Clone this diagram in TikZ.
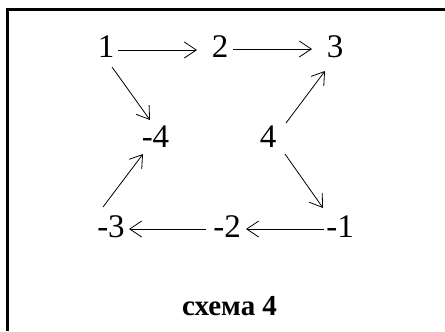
\documentclass[tikz,border=0pt]{standalone}
\usepackage{fontspec}
\setmainfont{Liberation Serif}
\usetikzlibrary{arrows.meta}
\begin{document}
\begin{tikzpicture}[x=1bp,y=-1bp,
  num/.style={inner sep=0pt,font=\fontsize{33bp}{36bp}\selectfont},
  caption/.style={inner sep=0pt,font=\fontsize{29bp}{32bp}\selectfont\bfseries},
  arr/.style={line width=0.8bp,-{Straight Barb[length=12bp,width=16bp]}},
  frame/.style={line width=3bp}]
\useasboundingbox (0,0) rectangle (445,331);
% frame (top and left edges)
\draw[frame] (7.5,331) -- (7.5,9) -- (445,9);
% vertices
\node[num] (n1) at (106,47) {1};
\node[num] (n2) at (220,47) {2};
\node[num] (n3) at (335,47) {3};
\node[num] (m4) at (155.5,137) {-4};
\node[num] (p4) at (268,137) {4};
\node[num] (m3) at (111,227) {-3};
\node[num] (m2) at (227,227) {-2};
\node[num] (m1) at (340,227) {-1};
\node[caption] (cap) at (229.5,306) {схема 4};
% edges
\draw[arr] ([shift={(12,3)}]n1.center) -- ([shift={(-23,3)}]n2.center);
\draw[arr] ([shift={(13,2)}]n2.center) -- ([shift={(-23,2)}]n3.center);
\draw[arr] ([shift={(6,20)}]n1.center) -- ([shift={(-5.5,-17)}]m4.center);
\draw[arr] ([shift={(18,-14)}]p4.center) -- ([shift={(-10,24)}]n3.center);
\draw[arr] ([shift={(17,17)}]p4.center) -- ([shift={(-17,-19)}]m1.center);
\draw[arr] ([shift={(-8,-20)}]m3.center) -- ([shift={(-12.5,17)}]m4.center);
\draw[arr] ([shift={(-16,2)}]m1.center) -- ([shift={(19,2)}]m2.center);
\draw[arr] ([shift={(-21,2)}]m2.center) -- ([shift={(18,2)}]m3.center);
\end{tikzpicture}
\end{document}
